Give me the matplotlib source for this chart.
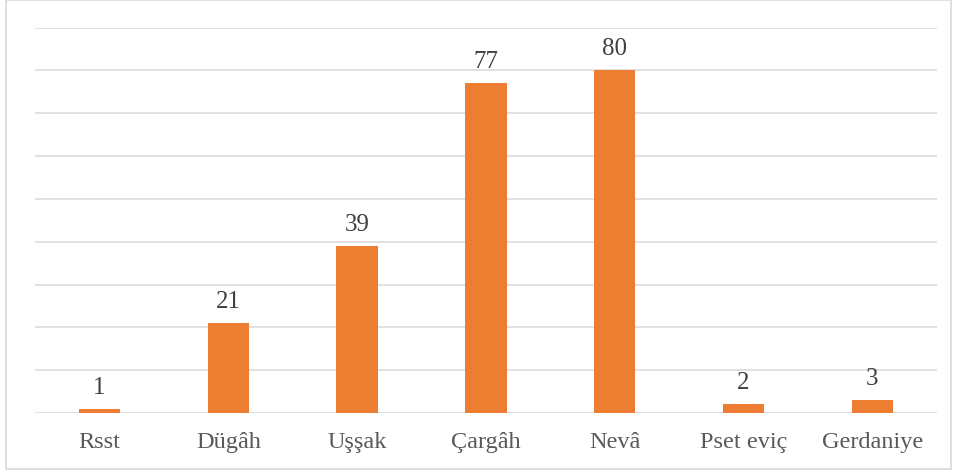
import matplotlib.pyplot as plt
from matplotlib.patches import Rectangle

makams = ['Rsst', 'Dügâh', 'Uşşak', 'Çargâh', 'Nevâ', 'Pset eviç', 'Gerdaniye']
counts = [1, 21, 39, 77, 80, 2, 3]

plt.rcParams['font.family'] = ['Liberation Serif', 'DejaVu Serif']

fig = plt.figure(figsize=(9.56, 4.77), dpi=100)
ax = fig.add_axes([0.0366, 0.1320, 0.9434, 0.8080])

x = range(len(makams))
bars = ax.bar(x, counts, width=0.32, color='#ED7D31', zorder=3)
for b, v in zip(bars, counts):
    ax.annotate(str(v), (b.get_x() + b.get_width() / 2, v), xytext=(0, 8),
                textcoords='offset points', ha='center', va='bottom',
                fontsize=18, color='#404040')

ax.set_xlim(-0.5, len(makams) - 0.5)
ax.set_ylim(0, 90)
ax.set_yticks(range(0, 91, 10))
ax.set_xticks(list(x))
ax.set_xticklabels(makams, fontsize=17.5, color='#595959')
ax.tick_params(axis='x', length=0, pad=13)
ax.tick_params(axis='y', length=0, labelleft=False)
ax.grid(axis='y', color='#D9D9D9', linewidth=1.1, zorder=0)
for s in ax.spines.values():
    s.set_visible(False)

# light frame around the whole chart
fig.patches.append(Rectangle((6 / 956, 7 / 477), 945 / 956, 469 / 477,
                             transform=fig.transFigure, fill=False,
                             edgecolor='#D9D9D9', linewidth=1.2))

fig.savefig('out.png', dpi=100)
